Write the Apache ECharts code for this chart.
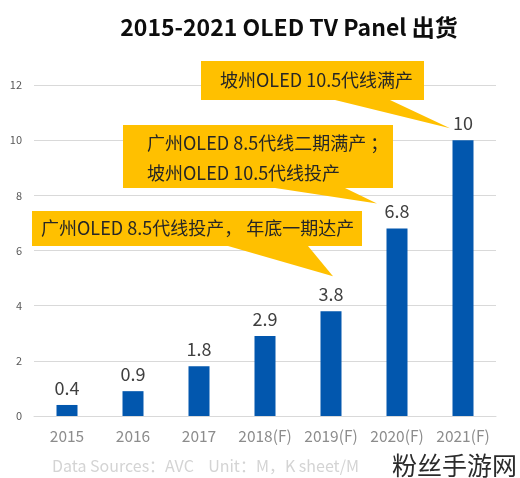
<!DOCTYPE html>
<html><head><meta charset="utf-8">
<script src="https://cdn.jsdelivr.net/npm/echarts@6/dist/echarts.min.js"></script>
<style>html,body{margin:0;padding:0;background:#fff}#c{width:520px;height:478px}</style>
</head><body><div id="c"></div>
<script>
const categories = ['2015','2016','2017','2018(F)','2019(F)','2020(F)','2021(F)'];
const shipments = [0.4, 0.9, 1.8, 2.9, 3.8, 6.8, 10];
const yTicks = [0, 2, 4, 6, 8, 10, 12];
const titleText = '2015-2021 OLED TV Panel 出货';
const sourceText = 'Data Sources：AVC    Unit：M，K sheet/M';
const watermarkText = '粉丝手游网';
const callouts = [
  {lines:['坡州OLED 10.5代线满产'], target:6},
  {lines:['广州OLED 8.5代线二期满产 ；','坡州OLED 10.5代线投产'], target:5},
  {lines:['广州OLED 8.5代线投产， 年底一期达产'], target:4}
];
const FONT = '"Noto Sans CJK SC", "Noto Sans", sans-serif';
const chart = echarts.init(document.getElementById('c'), null, {renderer:'canvas'});
chart.setOption({
  animation:false,
  backgroundColor:'#fff',
  title:{text:titleText,left:284,top:11,textAlign:'center',
    textStyle:{fontFamily:FONT,fontSize:23,fontWeight:'bold',color:'#0d0d0d'}},
  grid:{left:34,right:24,top:85,bottom:62,containLabel:false},
  xAxis:{type:'category',data:categories,
    axisLine:{lineStyle:{color:'#d9d9d9'}},axisTick:{show:false},
    axisLabel:{fontFamily:FONT,fontSize:15.5,color:'#8c8c8c',margin:12,interval:0}},
  yAxis:{type:'value',min:yTicks[0],max:yTicks[yTicks.length-1],interval:2,
    axisLine:{show:false},axisTick:{show:false},
    splitLine:{lineStyle:{color:'#d9d9d9'}},
    axisLabel:{fontFamily:FONT,fontSize:11,color:'#595959',margin:12}},
  series:[{type:'bar',data:shipments,barWidth:21,
    itemStyle:{color:'#0257AE'},
    label:{show:true,position:'top',distance:8,fontFamily:FONT,fontSize:18,color:'#404040'}}],
  graphic:[]
});

function tip(i, dx, dy){
  const p = chart.convertToPixel({seriesIndex:0},[i, shipments[i]]);
  return [p[0]+dx, p[1]+dy];
}
const boxes = [
  {x:201,y:61,w:223,h:39,base:[[335,100],[390,100]],tipOff:[-13,-12],tx:220,ty:[80]},
  {x:123,y:125,w:270,h:63,base:[[275,188],[345,188]],tipOff:[-20,-25],tx:147,ty:[143,173]},
  {x:32,y:211,w:330,h:35,base:[[228,246],[308,246]],tipOff:[2,-35],tx:41,ty:[228]}
];
const g = [];
callouts.forEach((c,k)=>{
  const b = boxes[k];
  const t = tip(c.target, b.tipOff[0], b.tipOff[1]);
  g.push({type:'polygon',z:100,shape:{points:[b.base[0],b.base[1],t]},style:{fill:'#FFC000'}});
  g.push({type:'rect',z:100,shape:{x:b.x,y:b.y,width:b.w,height:b.h},style:{fill:'#FFC000'}});
  c.lines.forEach((ln,j)=>{
    g.push({type:'text',z:101,x:b.tx,y:b.ty[j],style:{text:ln,fill:'#262626',font:'18px '+FONT,verticalAlign:'middle'}});
  });
});
g.push({type:'text',x:52,y:466,style:{text:sourceText,fill:'#d4d4d4',font:'16px '+FONT,verticalAlign:'middle'}});
g.push({type:'text',x:392,y:465,style:{text:watermarkText,fill:'#2b2b2b',font:'25px '+FONT,verticalAlign:'middle'}});
chart.setOption({graphic:g});
</script></body></html>
